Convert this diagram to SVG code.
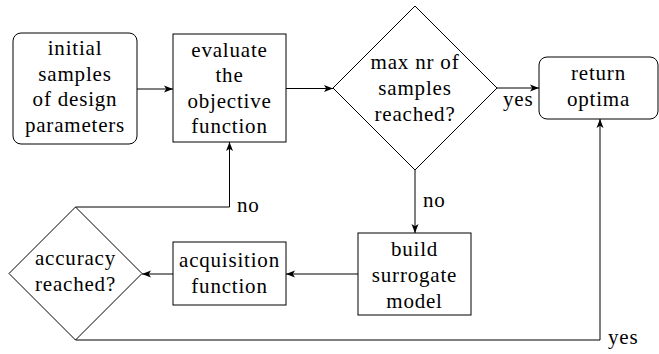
<svg xmlns="http://www.w3.org/2000/svg" width="659" height="354" viewBox="0 0 659 354">
  <style>
    .box { fill: #fff; stroke: #000; stroke-width: 1; }
    text { font-family: "Liberation Serif", "Times New Roman", serif; font-size: 21px; letter-spacing: 0.8px; fill: #000; }
    .lbl { text-anchor: middle; }
    .wire { fill: none; stroke: #000; stroke-width: 1; }
  </style>
  <defs>
    <marker id="stealth" markerUnits="userSpaceOnUse" markerWidth="10" markerHeight="8" refX="9" refY="4" orient="auto">
      <path d="M0,0.5 L9,4 L0,7.5 L2.2,4 Z" fill="#000"/>
    </marker>
  </defs>
  <rect width="659" height="354" fill="#fff"/>

  <g id="initial-samples">
    <rect class="box" x="13" y="33" width="124" height="111" rx="8"/>
    <text class="lbl" x="75" y="55">initial</text>
    <text class="lbl" x="75" y="81">samples</text>
    <text class="lbl" x="75" y="106">of design</text>
    <text class="lbl" x="75" y="132">parameters</text>
  </g>

  <g id="evaluate">
    <rect class="box" x="173" y="34" width="113" height="108"/>
    <text class="lbl" x="229.5" y="57">evaluate</text>
    <text class="lbl" x="229.5" y="82">the</text>
    <text class="lbl" x="229.5" y="108">objective</text>
    <text class="lbl" x="229.5" y="133">function</text>
  </g>

  <g id="max-samples">
    <polygon class="box" points="415,6 497,88 415,170 333,88"/>
    <text class="lbl" x="415" y="69">max nr of</text>
    <text class="lbl" x="415" y="95">samples</text>
    <text class="lbl" x="415" y="121">reached?</text>
  </g>

  <g id="return-optima">
    <rect class="box" x="539" y="57" width="119" height="62" rx="8"/>
    <text class="lbl" x="598.5" y="80">return</text>
    <text class="lbl" x="598.5" y="106">optima</text>
  </g>

  <g id="surrogate">
    <rect class="box" x="358" y="233" width="113" height="82"/>
    <text class="lbl" x="414.5" y="256">build</text>
    <text class="lbl" x="414.5" y="282">surrogate</text>
    <text class="lbl" x="414.5" y="308">model</text>
  </g>

  <g id="acquisition">
    <rect class="box" x="173" y="242" width="113" height="63"/>
    <text class="lbl" x="229.5" y="267">acquisition</text>
    <text class="lbl" x="229.5" y="293">function</text>
  </g>

  <g id="accuracy">
    <polygon class="box" points="75.5,207 142,273.5 75.5,340 9,273.5"/>
    <text class="lbl" x="75.5" y="265">accuracy</text>
    <text class="lbl" x="75.5" y="291">reached?</text>
  </g>

  <g id="connectors">
    <path class="wire" d="M137,89 H173" marker-end="url(#stealth)"/>
    <path class="wire" d="M286,88.5 H333" marker-end="url(#stealth)"/>
    <path class="wire" d="M497,88 H539" marker-end="url(#stealth)"/>
    <text x="503" y="106">yes</text>
    <path class="wire" d="M415,170 V233" marker-end="url(#stealth)"/>
    <text x="423" y="207">no</text>
    <path class="wire" d="M358,274 H286" marker-end="url(#stealth)"/>
    <path class="wire" d="M173,274 H142" marker-end="url(#stealth)"/>
    <path class="wire" d="M75.5,207 H229.5 V142" marker-end="url(#stealth)"/>
    <text x="237" y="212">no</text>
    <path class="wire" d="M75.5,340 H600 V119" marker-end="url(#stealth)"/>
    <text x="608" y="344">yes</text>
  </g>
</svg>
